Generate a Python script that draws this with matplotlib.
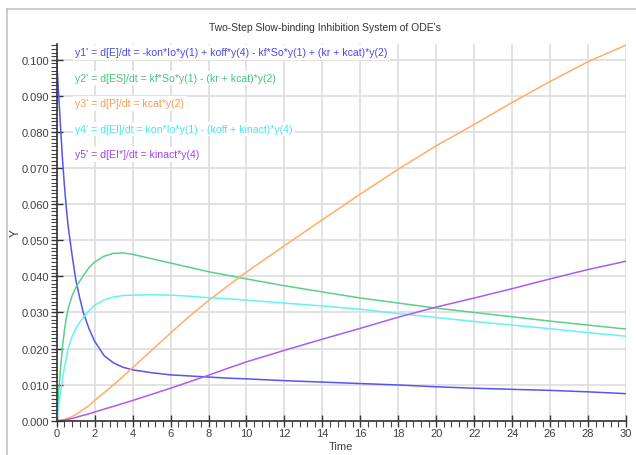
import matplotlib
matplotlib.use("Agg")
import matplotlib.pyplot as plt
from matplotlib.lines import Line2D
from matplotlib.ticker import MultipleLocator, FormatStrFormatter

plt.rcParams['font.family'] = ['Liberation Sans', 'DejaVu Sans']

# time points
t = [0, 0.1, 0.2, 0.3, 0.4, 0.5, 0.6, 0.8, 1.0, 1.2, 1.4, 1.7, 2.0, 2.5, 3.0, 3.5,
     4, 5, 6, 7, 8, 9, 10, 12, 14, 16, 18, 20, 22, 24, 26, 28, 30]

y1_E = [0.100, 0.0905, 0.0815, 0.0728, 0.0655, 0.0592, 0.0540, 0.0462, 0.0392, 0.0343,
        0.0300, 0.0255, 0.0220, 0.0180, 0.0160, 0.0148, 0.0141, 0.0133, 0.0127, 0.0124,
        0.0121, 0.0118, 0.0116, 0.0111, 0.0107, 0.0103, 0.0099, 0.0094, 0.0090, 0.0087,
        0.0084, 0.0080, 0.0075]
y2_ES = [0, 0.0080, 0.0145, 0.0203, 0.0248, 0.0283, 0.0310, 0.0345, 0.0368, 0.0386,
         0.0402, 0.0424, 0.0440, 0.0456, 0.0464, 0.0465, 0.0461, 0.0449, 0.0437, 0.0425,
         0.0413, 0.0403, 0.0393, 0.0374, 0.0357, 0.0340, 0.0326, 0.0312, 0.0300, 0.0288,
         0.0276, 0.0265, 0.0254]
y3_P = [0, 0.00002, 0.0001, 0.0002, 0.0003, 0.0005, 0.0007, 0.0011, 0.0017, 0.0024,
        0.0031, 0.0042, 0.0056, 0.0078, 0.0100, 0.0123, 0.0147, 0.0195, 0.0243, 0.0290,
        0.0333, 0.0373, 0.0412, 0.0485, 0.0557, 0.0628, 0.0697, 0.0762, 0.0821, 0.0882,
        0.0940, 0.0995, 0.1041]
y4_EI = [0, 0.0042, 0.0078, 0.0115, 0.0146, 0.0172, 0.0200, 0.0232, 0.0255, 0.0272,
         0.0286, 0.0305, 0.0320, 0.0335, 0.0343, 0.0347, 0.0348, 0.0349, 0.0348, 0.0345,
         0.0341, 0.0338, 0.0334, 0.0326, 0.0318, 0.0309, 0.0297, 0.0286, 0.0275, 0.0265,
         0.0255, 0.0244, 0.0234]
y5_EIstar = [0, 0.00002, 0.00005, 0.0001, 0.0002, 0.0003, 0.0004, 0.0006, 0.0009, 0.0012,
             0.0015, 0.0019, 0.0024, 0.0032, 0.0040, 0.0048, 0.0056, 0.0073, 0.0090, 0.0108,
             0.0126, 0.0145, 0.0163, 0.0195, 0.0226, 0.0256, 0.0287, 0.0315, 0.0340, 0.0366,
             0.0393, 0.0419, 0.0442]

labels = ["y1' = d[E]/dt = -kon*Io*y(1) + koff*y(4) - kf*So*y(1) + (kr + kcat)*y(2)",
          "y2' = d[ES]/dt = kf*So*y(1) - (kr + kcat)*y(2)",
          "y3' = d[P]/dt = kcat*y(2)",
          "y4' = d[EI]/dt = kon*Io*y(1) - (koff + kinact)*y(4)",
          "y5' = d[EI*]/dt = kinact*y(4)"]
line_colors = ['#5555f2', '#5ccf88', '#ffad66', '#66f2f2', '#a95cf2']
text_colors = ['#4a4ae6', '#45c47a', '#f99a4e', '#45e6ee', '#a045ee']

fig = plt.figure(figsize=(6.36, 4.56), dpi=100)
ax = fig.add_axes([0.0892, 0.0752, 0.8951, 0.8261])

series = [y1_E, y2_ES, y3_P, y4_EI, y5_EIstar]
for ys, c in zip(series, line_colors):
    ax.plot(t, ys, color=c, lw=1.1)

ax.set_xlim(0, 30)
ax.set_ylim(0, 0.1044)
ax.xaxis.set_major_locator(MultipleLocator(2))
ax.xaxis.set_minor_locator(MultipleLocator(0.4))
ax.yaxis.set_major_locator(MultipleLocator(0.01))
ax.yaxis.set_minor_locator(MultipleLocator(0.001))
ax.yaxis.set_major_formatter(FormatStrFormatter('%.3f'))
ax.grid(True, which='major', color='#dddddd', lw=1.2)
ax.set_axisbelow(True)
for s in ['top', 'right']:
    ax.spines[s].set_visible(False)
for s in ['left', 'bottom']:
    ax.spines[s].set_color('#333333')
    ax.spines[s].set_linewidth(1.2)
ax.tick_params(which='major', direction='inout', length=8, width=1, colors='#333333',
               labelsize=8, labelcolor='#404040', pad=1.5)
ax.tick_params(which='minor', direction='out', length=4, width=0.8, colors='#444444')

ax.set_xlabel("Time", fontsize=8, color='#404040', labelpad=2)
ax.set_ylabel("Y", fontsize=8.5, color='#404040', labelpad=0)
fig.text(0.511, 0.939, "Two-Step Slow-binding Inhibition System of ODE's",
         ha='center', va='center', fontsize=7.5, color='#333333')

ypos = [0.9775, 0.9098, 0.8421, 0.7744, 0.7067]
for lab, c, yp in zip(labels, text_colors, ypos):
    ax.text(0.0327, yp, lab, transform=ax.transAxes, ha='left', va='center',
            fontsize=7.6, color=c, zorder=5,
            bbox=dict(facecolor='white', edgecolor='none', pad=1.5))

# outer frame of the chart panel
fig.add_artist(Line2D([7 / 636, 7 / 636], [0, 1 - 10 / 456], color='#c4c4c4', lw=1.2))
fig.add_artist(Line2D([7 / 636, 1], [1 - 10 / 456, 1 - 10 / 456], color='#c4c4c4', lw=1.2))

fig.savefig("out.png", dpi=100)
